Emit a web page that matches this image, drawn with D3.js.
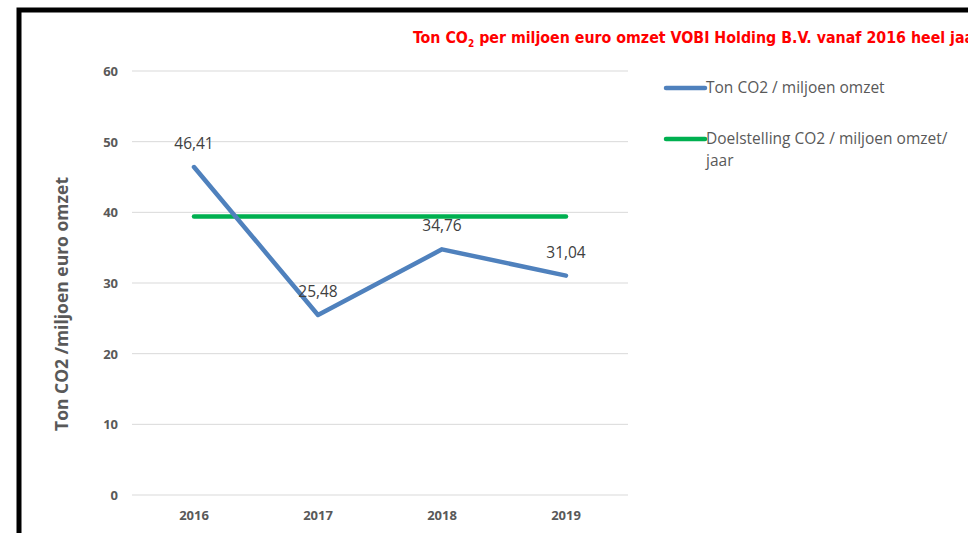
<!DOCTYPE html>
<html>
<head>
<meta charset="utf-8">
<script src="https://cdn.jsdelivr.net/npm/d3@7"></script>
<style>
  body { margin: 0; background: #fff; }
  svg { display: block; }
</style>
</head>
<body>
<svg id="chart"></svg>
<script>
// data
const years = ["2016", "2017", "2018", "2019"];
const co2Values = [46.41, 25.48, 34.76, 31.04];
const targetValues = [39.4, 39.4, 39.4, 39.4];
const yTicks = [0, 10, 20, 30, 40, 50, 60];
const seriesNames = ["Ton CO2 / miljoen omzet", "Doelstelling CO2 / miljoen omzet/", "jaar"];

let size = {width: 968, height: 533};
let plot = {left: 132, right: 628, top: 71, bottom: 495};

let svg = d3.select("#chart")
    .attr("width", size.width)
    .attr("height", size.height);

// frame
svg.append("rect")
    .attr("x", 19).attr("y", 10)
    .attr("width", 1000).attr("height", 600)
    .attr("fill", "none")
    .attr("stroke", "#000")
    .attr("stroke-width", 5);

// title (cut off at the right edge, as in the original)
let title = svg.append("text")
    .attr("x", 413).attr("y", 43)
    .attr("fill", "#ff0000")
    .attr("font-family", "'Liberation Sans Narrow', 'DejaVu Sans Condensed', sans-serif")
    .attr("font-weight", "bold")
    .attr("font-size", 15.8);
title.append("tspan").text("Ton CO");
title.append("tspan").attr("font-size", 10).attr("dy", 4).text("2");
title.append("tspan").attr("dy", -4).text(" per miljoen euro omzet VOBI Holding B.V. vanaf 2016 heel jaar");

// scales
let x = d3.scaleBand().domain(years).range([plot.left, plot.right]);
let y = d3.scaleLinear().domain([0, 60]).range([plot.bottom, plot.top]);

// grid
svg.append("g").selectAll("line")
    .data(yTicks)
    .join("line")
    .attr("x1", plot.left).attr("x2", plot.right)
    .attr("y1", d => y(d)).attr("y2", d => y(d))
    .attr("stroke", "#d9d9d9")
    .attr("stroke-width", 1);

// y axis labels
svg.append("g").selectAll("text")
    .data(yTicks)
    .join("text")
    .attr("x", 118).attr("y", d => y(d) + 5)
    .attr("text-anchor", "end")
    .attr("font-family", "'Open Sans', sans-serif")
    .attr("font-weight", "bold")
    .attr("font-size", 13)
    .attr("fill", "#595959")
    .text(d => d);

// x axis labels
svg.append("g").selectAll("text")
    .data(years)
    .join("text")
    .attr("x", d => x(d) + x.bandwidth() / 2).attr("y", 520)
    .attr("text-anchor", "middle")
    .attr("font-family", "'Open Sans', sans-serif")
    .attr("font-weight", "bold")
    .attr("font-size", 13)
    .attr("fill", "#595959")
    .text(d => d);

// y axis title
svg.append("text")
    .attr("transform", "translate(68,304) rotate(-90)")
    .attr("text-anchor", "middle")
    .attr("font-family", "'Open Sans', sans-serif")
    .attr("font-weight", "bold")
    .attr("font-size", 17.5)
    .attr("fill", "#595959")
    .text("Ton CO2 /miljoen euro omzet");

let cx = d => x(d) + x.bandwidth() / 2;
let line = d3.line().x(d => cx(d[0])).y(d => y(d[1]));

// target line
svg.append("path")
    .datum(years.map((d, i) => [d, targetValues[i]]))
    .attr("d", line)
    .attr("fill", "none")
    .attr("stroke", "#00b050")
    .attr("stroke-width", 4.5)
    .attr("stroke-linecap", "round");

// co2 line
svg.append("path")
    .datum(years.map((d, i) => [d, co2Values[i]]))
    .attr("d", line)
    .attr("fill", "none")
    .attr("stroke", "#4f81bd")
    .attr("stroke-width", 4.5)
    .attr("stroke-linecap", "round")
    .attr("stroke-linejoin", "round");

// data labels
svg.append("g").selectAll("text")
    .data(years.map((d, i) => [d, co2Values[i]]))
    .join("text")
    .attr("x", d => cx(d[0]))
    .attr("y", d => y(d[1]) - 18)
    .attr("text-anchor", "middle")
    .attr("font-family", "'Open Sans', sans-serif")
    .attr("font-size", 15.5)
    .attr("fill", "#404040")
    .text(d => d3.format(".2f")(d[1]).replace(".", ","));

// legend
let legend = svg.append("g");
legend.append("line")
    .attr("x1", 666).attr("x2", 705).attr("y1", 88).attr("y2", 88)
    .attr("stroke", "#4f81bd").attr("stroke-width", 4.5).attr("stroke-linecap", "round");
legend.append("line")
    .attr("x1", 666).attr("x2", 705).attr("y1", 139).attr("y2", 139)
    .attr("stroke", "#00b050").attr("stroke-width", 4.5).attr("stroke-linecap", "round");
legend.selectAll("text")
    .data(seriesNames)
    .join("text")
    .attr("x", 706)
    .attr("y", (d, i) => [93, 144, 166][i])
    .attr("font-family", "'Open Sans', sans-serif")
    .attr("font-size", 15.5)
    .attr("fill", "#595959")
    .text(d => d);
</script>
</body>
</html>
